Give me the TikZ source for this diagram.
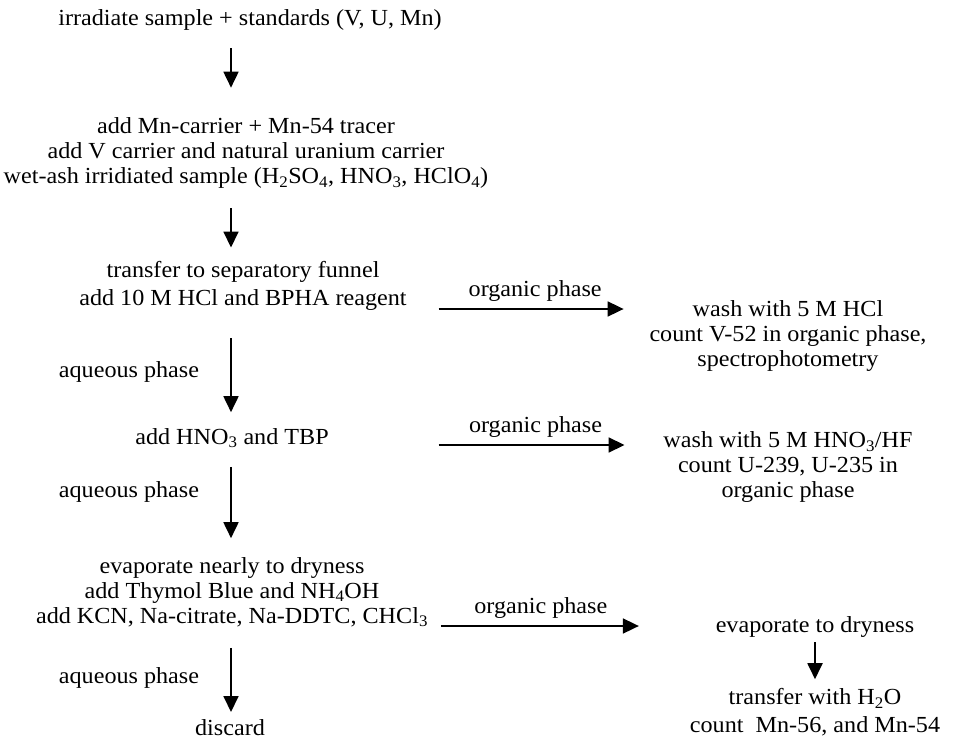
\documentclass[tikz,border=0pt]{standalone}
\usepackage{fontspec}
\setmainfont[FakeStretch=1.05]{Liberation Serif}
\usetikzlibrary{arrows.meta}
\begin{document}
\begin{tikzpicture}[x=1bp, y=-1bp, auto, line width=1.8bp,
  flow/.style={-{Triangle[length=16bp,width=15bp]}},
  stage node/.style={align=center, inner sep=2bp, font=\fontsize{23bp}{25bp}\selectfont},
  phase node/.style={inner sep=7bp, font=\fontsize{23bp}{25bp}\selectfont}]
\useasboundingbox (0,0) rectangle (958,742);
\coordinate (spine) at (231,0);
\coordinate (row1) at (0,309);
\coordinate (row2) at (0,445);
\coordinate (row3) at (0,626);
% main column
\node [stage node] (irr) at (250,20) {irradiate sample + standards (V, U, Mn)};
\node [stage node] (carr) at (246,153) {add Mn-carrier + Mn-54 tracer\\ add V carrier and natural uranium carrier\\ wet-ash irridiated sample (H\textsubscript{2}SO\textsubscript{4}, HNO\textsubscript{3}, HClO\textsubscript{4})};
\node [stage node] (funnel) at (243,286) {transfer to separatory funnel\\[3bp] add 10 M HCl and BPHA reagent};
\node [stage node] (tbp) at (232,438) {add HNO\textsubscript{3} and TBP};
\node [stage node] (evap) at (232,592) {evaporate nearly to dryness\\ add Thymol Blue and NH\textsubscript{4}OH\\ add KCN, Na-citrate, Na-DDTC, CHCl\textsubscript{3}};
\node [stage node] (discard) at (230,728) {discard};
\node [stage node] (aq1) at (129,372) {aqueous phase};
\node [stage node] (aq2) at (129,492) {aqueous phase};
\node [stage node] (aq3) at (129,678) {aqueous phase};
% organic side
\node [stage node] (vwash) at (788,336) {wash with 5 M HCl\\ count V-52 in organic phase,\\ spectrophotometry};
\node [stage node] (uwash) at (788,467) {wash with 5 M HNO\textsubscript{3}/HF\\ count U-239, U-235 in\\ organic phase};
\node [stage node] (dry) at (815,627) {evaporate to dryness};
\node [stage node] (mncount) at (815,712) {transfer with H\textsubscript{2}O\\[3bp] count~ Mn-56, and Mn-54};
\path
    (irr.south -| spine) edge [flow, shorten <=15bp, shorten >=27bp] (carr.north -| spine)
    (carr.south -| spine) edge [flow, shorten <=17bp, shorten >=11bp] (funnel.north -| spine)
    (funnel.south -| spine) edge [flow, shorten <=25bp, shorten >=13bp] (tbp.north -| spine)
    (tbp.south -| spine) edge [flow, shorten <=16bp, shorten >=16bp] (evap.north -| spine)
    (evap.south -| spine) edge [flow, shorten <=18bp, shorten >=5bp] (discard.north -| spine)
    (dry.south) edge [flow, shorten <=2bp, shorten >=6bp] (mncount.north)
    (funnel.east |- row1) edge [flow, shorten <=29bp, shorten >=23bp] node [phase node, pos=0.53] {organic phase} (vwash.west |- row1)
    (tbp.east |- row2) edge [flow, shorten <=107bp, shorten >=36bp] node [phase node, pos=0.62] {organic phase} (uwash.west |- row2)
    (evap.east |- row3) edge [flow, shorten <=10bp, shorten >=74bp] node [phase node, pos=0.39] {organic phase} (dry.west |- row3)
    ;
\end{tikzpicture}
\end{document}
